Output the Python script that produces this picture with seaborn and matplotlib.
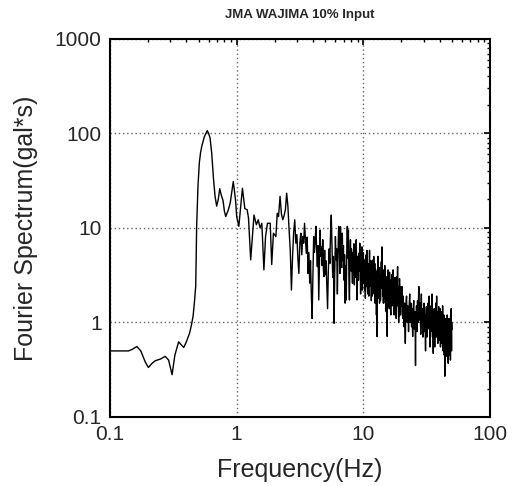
import numpy as np
import pandas as pd
import seaborn as sns
import matplotlib
matplotlib.use("Agg")
import matplotlib.pyplot as plt

# smooth low-frequency part, read point by point (Hz, gal*s)
freq_low = [0.10, 0.12, 0.14, 0.15, 0.163, 0.175, 0.19, 0.201, 0.215, 0.228, 0.25, 0.273,
            0.29, 0.309, 0.325, 0.348, 0.365, 0.382, 0.40, 0.426, 0.44, 0.453, 0.465, 0.475,
            0.483, 0.495, 0.507, 0.518, 0.53, 0.555, 0.586, 0.60, 0.616, 0.635, 0.655, 0.675,
            0.695, 0.715, 0.735, 0.76, 0.78, 0.80, 0.82, 0.86, 0.89, 0.94, 0.98, 1.0, 1.04,
            1.11, 1.16, 1.21, 1.24, 1.29, 1.33, 1.37, 1.43, 1.48, 1.53, 1.58, 1.64, 1.69,
            1.75, 1.84, 1.89, 1.95, 2.04, 2.09, 2.14]
amp_low = [0.50, 0.50, 0.50, 0.52, 0.557, 0.50, 0.38, 0.334, 0.37, 0.394, 0.41, 0.438,
           0.40, 0.28, 0.45, 0.624, 0.58, 0.544, 0.62, 0.78, 0.95, 1.17, 1.7, 2.43,
           10.4, 28, 48.7, 62, 73, 92, 107, 100, 90, 62, 34, 21.6,
           17, 20, 26, 21.6, 19.6, 15, 13.2, 15.6, 18.5, 31, 19.6, 13.2, 10.4,
           26.3, 16, 15.6, 12.7, 4.6, 8, 13.7, 10.8, 12.2, 10.0, 11.2, 3.6, 8.1,
           11.2, 11.2, 4.1, 8.8, 8.1, 14.3, 13.2]

# dense part, evenly spaced FFT lines within each band
band1_range = (2.2, 4.95)
band1_amp = [21.6, 14, 12.2, 13.5, 15.6, 23.3, 17, 9.5, 5.8, 2.2, 5.0, 9.0, 12.2, 6.9, 8.5,
             4.8, 3.3, 7.0, 8.8, 5.2, 8.1, 6.9, 11.2, 7.5, 5.4, 8.0, 3.3, 5.5, 2.6, 4.5,
             2.0, 1.1, 3.0, 8.1, 5.5, 7.2, 10.4, 6.0, 3.9, 6.5, 1.73, 4.0, 9.5, 5.0, 6.3,
             4.0, 7.5, 3.6, 3.05, 5.8]
band2_range = (5.0, 9.95)
band2_amp = [3.2, 4.5, 2.4, 1.4, 3.5, 6.0, 4.2, 9.0, 13.7, 6.5, 3.0, 5.0, 0.98, 3.5, 8.1,
             4.6, 6.0, 2.0, 5.5, 10.4, 7.0, 3.3, 10.3, 5.0, 3.8, 8.8, 4.5, 6.5, 2.8, 5.2,
             1.6, 4.0, 1.73, 6.0, 10.4, 4.8, 9.5, 3.0, 1.73, 5.0, 7.5, 3.5, 6.0, 4.0, 2.6,
             5.5, 3.2, 6.8, 2.5, 4.5, 3.0, 5.8, 7.5, 4.0, 1.73, 3.8, 5.0, 2.8, 5.4, 3.5,
             6.9, 4.2, 2.0, 5.2, 3.0, 6.3, 2.2, 4.8, 3.5]
band3_range = (10.0, 19.9)
band3_amp = [5.5, 2.6, 4.2, 2.2, 4.6, 1.8, 3.0, 5.2, 2.4, 5.8, 3.1, 2.0, 4.2, 2.6, 1.9,
             3.6, 5.8, 2.4, 4.0, 2.8, 4.5, 1.7, 3.4, 1.9, 3.8, 2.2, 4.6, 2.4, 5.0, 2.0,
             3.0, 4.2, 1.6, 3.7, 1.8, 3.5, 1.2, 2.8, 0.71, 2.6, 3.9, 5.0, 2.2, 3.4, 1.8,
             3.8, 1.6, 2.9, 3.2, 1.7, 2.0, 3.6, 4.4, 2.3, 6.3, 2.6, 3.4, 1.9, 3.6, 1.6,
             2.6, 3.3, 1.8, 2.1, 4.0, 2.4, 1.6, 3.1, 2.8, 1.3, 2.4, 3.0, 1.5, 0.71, 2.2,
             1.6, 3.6, 2.1, 1.8, 2.9, 1.6, 1.4, 3.4, 2.2, 2.0, 2.8, 1.4, 1.2, 2.5, 1.7,
             2.0, 3.2, 1.9, 1.5, 2.6, 1.8, 3.6, 2.2, 1.7, 2.7, 1.5, 1.2, 2.4, 1.9, 1.47,
             3.0, 1.6, 1.9, 2.6, 1.4, 1.1, 2.2, 3.05, 1.5, 1.8, 2.6, 3.9, 1.7, 1.5, 2.4,
             1.3, 1.0, 2.2, 1.8, 1.16, 2.9, 1.6, 1.5, 2.4, 1.2, 1.3, 2.2, 1.7, 2.0]
band4_range = (20.0, 50.0)
band4_amp = [1.5, 2.4, 1.2, 1.1, 1.9, 1.3, 0.9, 1.6, 1.0, 0.6, 1.3, 1.7, 1.9, 1.1, 1.0,
             1.5, 1.2, 0.8, 1.26, 1.6, 2.0, 1.0, 1.1, 1.6, 1.3, 0.9, 1.4, 1.0, 0.71, 1.2,
             1.5, 1.7, 0.9, 0.85, 1.3, 1.0, 0.35, 1.0, 1.2, 1.5, 0.9, 0.8, 1.7, 1.2, 1.0,
             1.8, 2.4, 1.3, 1.2, 1.06, 1.6, 1.1, 0.75, 1.4, 2.0, 1.2, 1.0, 1.4, 0.9, 0.7,
             1.3, 1.1, 0.9, 1.6, 1.2, 0.8, 1.2, 0.9, 0.5, 1.1, 1.3, 1.47, 0.9, 0.7, 1.3,
             1.0, 0.85, 1.6, 1.1, 0.9, 1.4, 1.9, 1.2, 1.0, 0.55, 1.2, 0.9, 0.8, 1.5, 1.1,
             1.0, 1.6, 2.0, 0.9, 0.7, 1.3, 0.8, 0.47, 1.1, 0.9, 0.8, 1.4, 1.0, 0.55, 1.2,
             1.0, 0.9, 1.6, 1.1, 0.7, 1.3, 1.9, 0.9, 1.1, 1.3, 0.8, 0.6, 1.1, 0.9, 0.8,
             1.47, 1.0, 0.65, 1.2, 0.95, 0.9, 1.4, 0.8, 0.55, 1.0, 0.85, 0.75, 1.3, 0.9, 0.6,
             1.1, 0.9, 0.8, 1.5, 0.7, 0.5, 0.95, 0.8, 0.7, 1.2, 0.9, 0.45, 0.9, 0.6, 0.27,
             0.8, 0.7, 1.1, 0.8, 0.5, 0.9, 0.7, 0.44, 1.0, 0.8, 0.6, 1.2, 0.7, 0.5, 0.85,
             0.65, 0.37, 0.9, 0.75, 0.6, 1.1, 0.7, 0.45, 0.8, 0.65, 0.55, 1.0, 0.7, 0.4,
             1.2, 0.8, 0.6, 1.4, 0.9, 0.5, 1.0, 0.84]

decade_ticks = [0.1, 1, 10, 100]
decade_labels = ["0.1", "1", "10", "100"]
y_ticks = [0.1, 1, 10, 100, 1000]
y_labels = ["0.1", "1", "10", "100", "1000"]

freqs = list(freq_low)
amps = list(amp_low)
for rng, vals in [(band1_range, band1_amp), (band2_range, band2_amp),
                  (band3_range, band3_amp), (band4_range, band4_amp)]:
    freqs += list(np.linspace(rng[0], rng[1], len(vals)))
    amps += vals
spec = pd.DataFrame({"freq": freqs, "amp": amps})

sns.set_style("white")
plt.rcParams["font.family"] = ["Liberation Sans", "DejaVu Sans"]

fig = plt.figure(figsize=(5.17, 4.86), dpi=100)
ax = fig.add_axes([0.2128, 0.142, 0.735, 0.778])
sns.lineplot(x="freq", y="amp", data=spec, ax=ax, sort=False, estimator=None,
             color="black", linewidth=1.0)
ax.set_xscale("log")
ax.set_yscale("log")
ax.set_xlim(0.1, 100)
ax.set_ylim(0.1, 1000)
ax.set_xticks(decade_ticks)
ax.set_xticklabels(decade_labels)
ax.set_yticks(y_ticks)
ax.set_yticklabels(y_labels)
ax.grid(True, which="major", linestyle=(0, (1, 2)), color="#666666", linewidth=1)
ax.tick_params(which="both", direction="in", top=True, right=True, color="black")
ax.tick_params(which="major", length=4, width=1.2, labelsize=15, pad=6)
ax.tick_params(which="minor", length=2.5, width=1)
for s in ax.spines.values():
    s.set_linewidth(1.5)
    s.set_color("black")

ax.set_xlabel("Frequency(Hz)", fontsize=18, labelpad=10)
ax.set_ylabel("Fourier Spectrum(gal*s)", fontsize=18, labelpad=12)
ax.set_title("JMA WAJIMA 10% Input", fontsize=9.5, fontweight="bold", pad=15)

fig.savefig("out.png", dpi=100)
